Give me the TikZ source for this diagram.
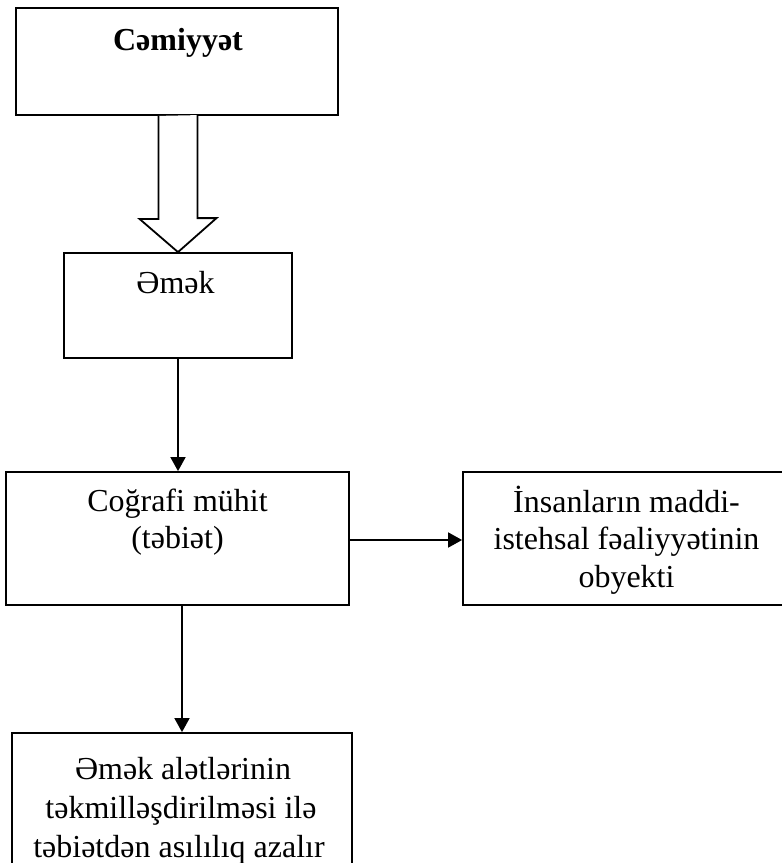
\documentclass[tikz,border=0pt]{standalone}
\usepackage{fontspec}
\setmainfont{Liberation Serif}
\usetikzlibrary{arrows.meta,calc}
\begin{document}
\begin{tikzpicture}[x=1pt,y=-1pt,
  box/.style={draw=black,line width=1.8pt,fill=none,inner sep=0pt,rectangle},
  txt/.style={anchor=base,inner sep=0pt,font=\fontsize{32}{37.5}\selectfont},
  arr/.style={line width=1.8pt,-{Triangle[length=14pt,width=15pt]}},
  hollow/.style={line width=1.8pt,draw=black,fill=white,line join=miter}]
\useasboundingbox (0,0) rectangle (782,863);
\clip (0,0) rectangle (782,863);
% boxes
\node[box,minimum width=322pt,minimum height=107pt] (b1) at (177,61.5) {};
\node[box,minimum width=228pt,minimum height=105pt] (b2) at (178,305.5) {};
\node[box,minimum width=343pt,minimum height=133pt] (b3) at (177.5,538.5) {};
\node[box,minimum width=327pt,minimum height=133pt] (b4) at (626.5,538.5) {};
\node[box,minimum width=340pt,minimum height=147pt] (b5) at (182,806.5) {};
% texts
\node[txt,font=\fontsize{32}{37.5}\selectfont\bfseries] (t1) at (178,50) {Cəmiyyət};
\node[txt] (t2) at (175.5,293) {Əmək};
\node[txt] (t3a) at (177.5,511.5) {Coğrafi mühit};
\node[txt] (t3b) at (177.5,548.5) {(təbiət)};
\node[txt] (t4a) at (626.5,512) {İnsanların maddi-};
\node[txt] (t4b) at (626.5,549.5) {istehsal fəaliyyətinin};
\node[txt] (t4c) at (626.5,587) {obyekti};
\node[txt] (t5a) at (183,779) {Əmək alətlərinin};
\node[txt] (t5b) at (181,818) {təkmilləşdirilməsi ilə};
\node[txt] (t5c) at (179,857) {təbiətdən asılılıq azalır};
% hollow arrow from b1 to b2
\draw[hollow] (b1.south -| b2.north) ++(-19.5,0) -- ++(0,103) -- ++(-19,0)
  -- (b2.north) -- ++(38.5,-34) -- ++(-19,0) -- ++(0,-103);
% connectors
\draw[arr] (b2.south) -- (b2.south |- b3.north);
\draw[arr] ([yshift=-1.5pt]b3.east) -- ([yshift=-1.5pt]b3.east -| b4.west);
\draw[arr] ([xshift=4.5pt]b3.south) -- ([xshift=4.5pt]b3.south |- b5.north);
\end{tikzpicture}
\end{document}
